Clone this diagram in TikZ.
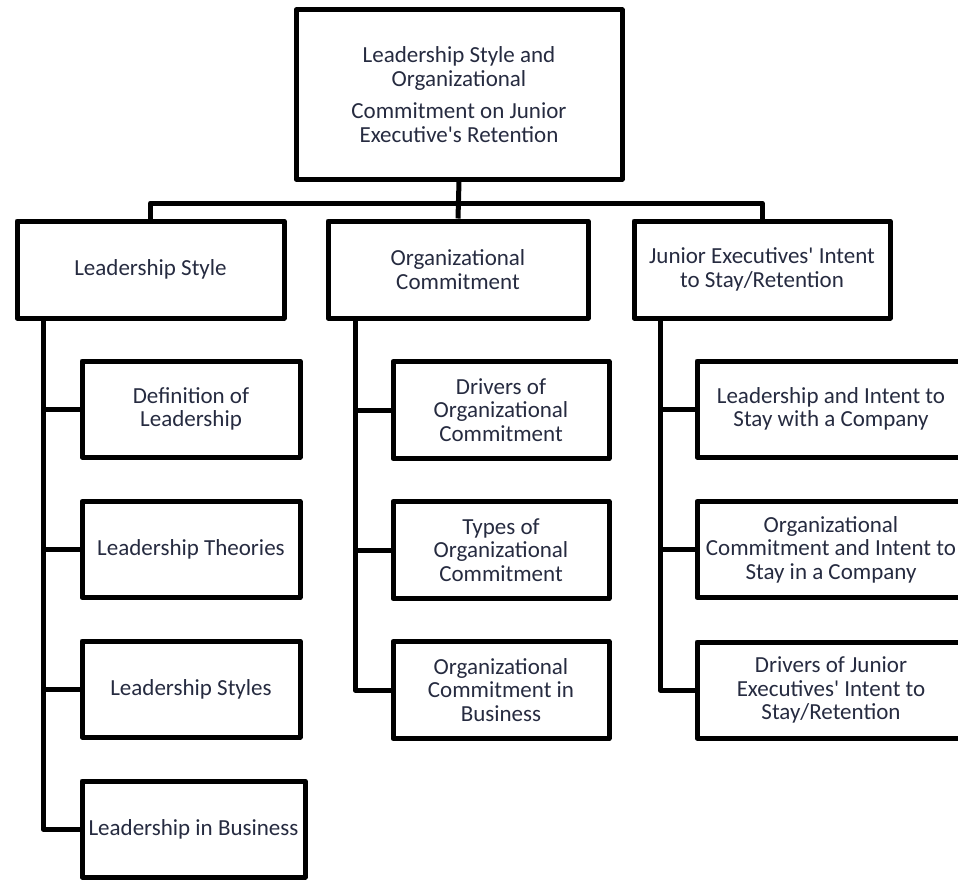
\documentclass[tikz,border=0pt]{standalone}
\usepackage{fontspec}
\setmainfont{Carlito}[Ligatures=TeXOff]
\definecolor{txt}{RGB}{38,43,64}
\begin{document}
\begin{tikzpicture}[x=1pt,y=-1pt,
  box/.style={draw=black,line width=5pt,line join=round,inner sep=0pt,align=center,
    text=txt,font=\fontsize{23}{23.5}\selectfont},
  conn/.style={draw=black,line width=5pt,line join=round}]
\useasboundingbox (0,0) rectangle (958,880);
\clip (0,0) rectangle (958,880);
\fill[white] (0,0) rectangle (958,880);
% root
\node[box,minimum width=326pt,minimum height=169pt] (root) at (459,94.5)
  {Leadership Style and\\Organizational\\[9pt]Commitment on Junior\\Executive's Retention};
% level 1
\node[box,minimum width=267pt,minimum height=97pt] (ls) at (150.5,269.5) {Leadership Style};
\node[box,minimum width=260pt,minimum height=97pt] (oc) at (458,269.5) {Organizational\\Commitment};
\node[box,minimum width=256pt,minimum height=97pt] (je) at (762,269.5) {Junior Executives' Intent\\to Stay/Retention};
% left children
\node[box,minimum width=218pt,minimum height=96pt] (l1) at (191,409) {Definition of\\Leadership};
\node[box,minimum width=218pt,minimum height=96pt] (l2) at (191,549.5) {Leadership Theories};
\node[box,minimum width=218pt,minimum height=96pt] (l3) at (191,689) {Leadership Styles};
\node[box,minimum width=223pt,minimum height=96pt] (l4) at (193.5,829) {Leadership in Business};
% middle children
\node[box,minimum width=216pt,minimum height=97pt] (m1) at (501,410) {Drivers of\\Organizational\\Commitment};
\node[box,minimum width=216pt,minimum height=97pt] (m2) at (501,550) {Types of\\Organizational\\Commitment};
\node[box,minimum width=216pt,minimum height=97pt] (m3) at (501,690) {Organizational\\Commitment in\\Business};
% right children
\node[box,minimum width=268pt,minimum height=96pt] (r1) at (831,409) {Leadership and Intent to\\Stay with a Company};
\node[box,minimum width=268pt,minimum height=96pt] (r2) at (831,549.5) {Organizational\\Commitment and Intent to\\Stay in a Company};
\node[box,minimum width=268pt,minimum height=96pt] (r3) at (831,690) {Drivers of Junior\\Executives' Intent to\\Stay/Retention};
% connectors
\coordinate (bus) at (459,203);
\draw[conn] (root.south) -- (oc.north);
\draw[conn] (ls.north) -- (ls.north |- bus) -- (je.north |- bus) -- (je.north);
\coordinate (lv) at (43,318);
\coordinate (mv) at (355,318);
\coordinate (rv) at (660,318);
\draw[conn] (lv) |- (l4.west);
\foreach \i in {1,2,3} \draw[conn] (l\i.west) -- (l\i.west -| lv);
\draw[conn] (mv) |- (m3.west);
\foreach \i in {1,2} \draw[conn] (m\i.west) -- (m\i.west -| mv);
\draw[conn] (rv) |- (r3.west);
\foreach \i in {1,2} \draw[conn] (r\i.west) -- (r\i.west -| rv);
\end{tikzpicture}
\end{document}
